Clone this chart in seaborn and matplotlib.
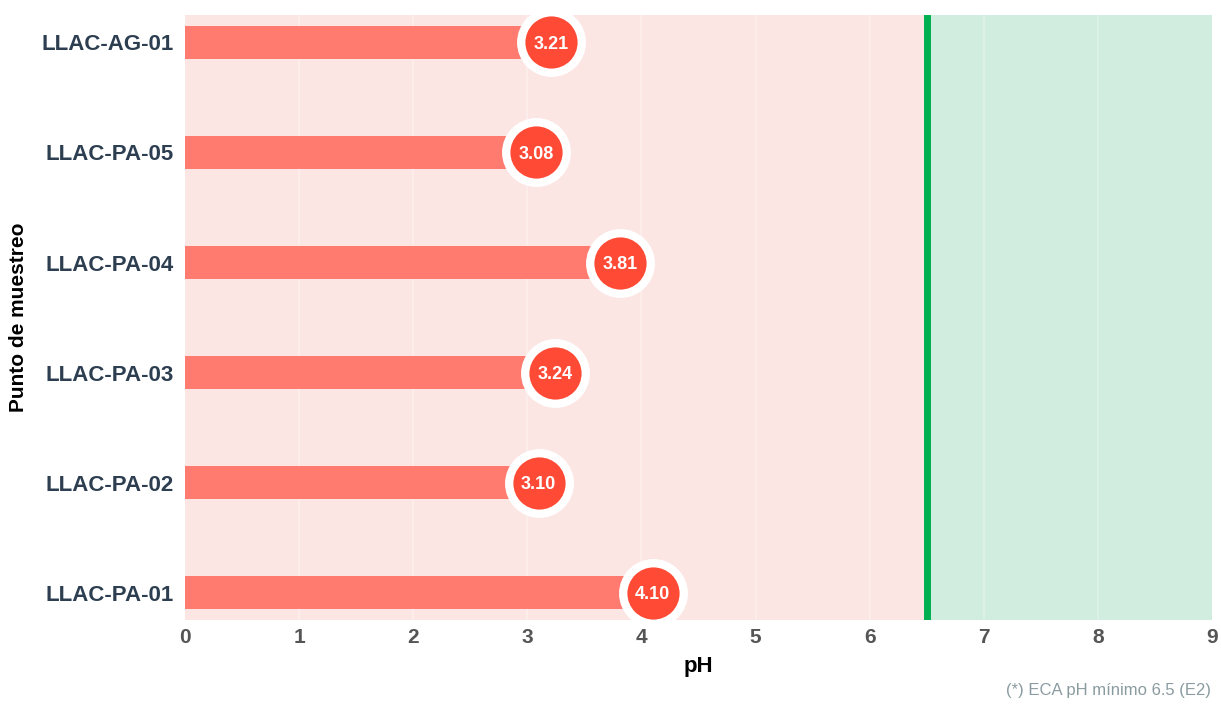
import matplotlib
matplotlib.use("Agg")
import matplotlib.pyplot as plt
import seaborn as sns
import pandas as pd

# datos de pH por punto de muestreo
puntos = ["LLAC-AG-01", "LLAC-PA-05", "LLAC-PA-04", "LLAC-PA-03", "LLAC-PA-02", "LLAC-PA-01"]
ph = [3.21, 3.08, 3.81, 3.24, 3.10, 4.10]
eca_min = 6.5
x_max = 9

df = pd.DataFrame({"punto": puntos, "ph": ph})

sns.set_theme(style="white")
plt.rcParams["font.family"] = ["Liberation Sans", "DejaVu Sans"]

fig = plt.figure(figsize=(12.21, 7.07), dpi=100)
ax = fig.add_axes([0.1515, 0.123, 0.8411, 0.8558])

# zonas: fuera de norma / dentro de norma
ax.axvspan(0, eca_min, color="#FCE6E4", zorder=0, lw=0)
ax.axvspan(eca_min, x_max, color="#D0EDE0", zorder=0, lw=0)
for xv in range(1, x_max):
    ax.axvline(xv, color="white", lw=1.2, alpha=0.3, zorder=0.5)

sns.barplot(data=df, x="ph", y="punto", order=puntos, orient="h",
            color="#FF7B6F", saturation=1, width=0.3, linewidth=0,
            ax=ax, zorder=2)

ax.axvline(eca_min, color="#00B050", lw=5, zorder=3)

sns.scatterplot(data=df, x="ph", y="punto", s=1900, color="#FF4A36",
                edgecolor="white", linewidth=6, ax=ax, zorder=4, legend=False)
for i, v in enumerate(ph):
    ax.text(v, i, f"{v:.2f}", ha="center", va="center_baseline", color="white",
            fontsize=13, fontweight="bold", zorder=5)

ax.set_xlim(0, x_max)
ax.set_ylim(len(puntos) - 0.75, -0.25)
ax.set_xticks(range(0, x_max + 1))
for s in ax.spines.values():
    s.set_visible(False)
ax.tick_params(axis="x", labelsize=15, colors="#555555", pad=6, length=0)
ax.tick_params(axis="y", labelsize=16, colors="#2C3E50", pad=8, length=0)
for t in ax.get_xticklabels() + ax.get_yticklabels():
    t.set_fontweight("bold")

ax.set_xlabel("pH", fontsize=16, fontweight="bold", color="black", labelpad=6)
ax.set_ylabel("Punto de muestreo", fontsize=15, fontweight="bold", color="black", labelpad=10)

fig.text(0.992, 0.024, "(*) ECA pH mínimo 6.5 (E2)", ha="right", va="center",
         fontsize=12, color="#8A9BA0")

fig.savefig("out.png", dpi=100, facecolor="white")
